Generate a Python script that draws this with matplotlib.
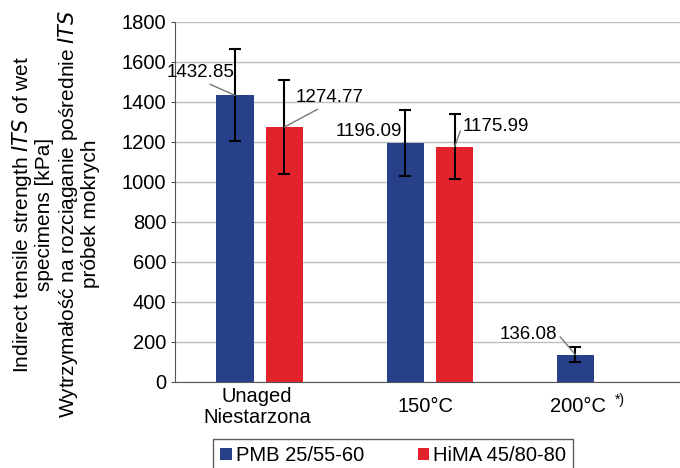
import numpy as np
import matplotlib
matplotlib.use('Agg')
import matplotlib.pyplot as plt
from matplotlib.transforms import ScaledTranslation

plt.rcParams['font.family'] = ['Liberation Sans', 'DejaVu Sans']

# data
categories = ['Unaged\nNiestarzona', '150°C', '200°C']
series_names = ['PMB 25/55-60', 'HiMA 45/80-80']
pmb_values = [1432.85, 1196.09, 136.08]
pmb_errors = [230, 165, 38]
hima_values = [1274.77, 1175.99, 0]
hima_errors = [235, 162, 0]
colors = ['#283f8a', '#e3232b']

fig = plt.figure(figsize=(6.8, 4.68), dpi=100)
ax = fig.add_axes([0.257, 0.184, 0.743, 0.769])

x = np.arange(len(categories))
w = 0.22
off = 0.145
ax.set_axisbelow(True)
ax.bar(x - off, pmb_values, w, color=colors[0], label=series_names[0], zorder=2)
ax.bar(x[:2] + off, hima_values[:2], w, color=colors[1], label=series_names[1], zorder=2)
ax.errorbar(x - off, pmb_values, yerr=pmb_errors, fmt='none', ecolor='black',
            elinewidth=1.5, capsize=4, capthick=1.5, zorder=3)
ax.errorbar(x[:2] + off, hima_values[:2], yerr=hima_errors[:2], fmt='none', ecolor='black',
            elinewidth=1.5, capsize=4, capthick=1.5, zorder=3)

ax.set_xlim(-0.5, 2.47)
ax.set_ylim(0, 1800)
ax.set_yticks(np.arange(0, 1801, 200))
ax.yaxis.grid(True, color='#bdbdbd', linewidth=1)
ax.tick_params(axis='y', labelsize=14.5, length=3, color='#555555', pad=3)
ax.set_xticks(x)
ax.set_xticklabels(categories, fontsize=14.5)
ax.tick_params(axis='x', length=0, pad=18)
shifts = [-3, -4, -22]
for lab, dx in zip(ax.get_xticklabels(), shifts):
    lab.set_verticalalignment('center')
    lab.set_linespacing(1.1)
    lab.set_transform(lab.get_transform() + ScaledTranslation(dx / 100, 0, fig.dpi_scale_trans))
ax.text(2.085, -90, '*)', fontsize=10, ha='left', va='center')

for s in ['top', 'right']:
    ax.spines[s].set_visible(False)
ax.spines['left'].set_color('#555555')
ax.spines['bottom'].set_color('#555555')

ax.set_ylabel('Indirect tensile strength $\\it{ITS}$ of wet\nspecimens [kPa]\n'
              'Wytrzymałość na rozciąganie pośrednie $\\it{ITS}$\npróbek mokrych',
              fontsize=15, linespacing=1.08)
ax.yaxis.set_label_coords(-0.148, 0.466)

# value labels with leader lines
line_kw = dict(arrowstyle='-', color='#777777', lw=1, shrinkA=0, shrinkB=0)
ax.annotate(f'{pmb_values[0]:.2f}', xy=(0 - off, pmb_values[0]), xytext=(-0.35, 1545),
            fontsize=13.5, ha='center', va='center',
            arrowprops=dict(line_kw, relpos=(0.55, 0.0)))
ax.annotate(f'{hima_values[0]:.2f}', xy=(0 + off, hima_values[0]), xytext=(0.41, 1420),
            fontsize=13.5, ha='center', va='center',
            arrowprops=dict(line_kw, relpos=(0.4, 0.0)))
ax.text(0.64, 1250, f'{pmb_values[1]:.2f}', fontsize=13.5, ha='center', va='center')
ax.annotate(f'{hima_values[1]:.2f}', xy=(1 + off, hima_values[1]), xytext=(1.39, 1275),
            fontsize=13.5, ha='center', va='center',
            arrowprops=dict(line_kw, relpos=(-0.02, 0.5)))
ax.annotate(f'{pmb_values[2]:.2f}', xy=(2 - off, pmb_values[2]), xytext=(1.58, 235),
            fontsize=13.5, ha='center', va='center',
            arrowprops=dict(line_kw, relpos=(1.02, 0.5)))

fig.legend(loc='lower left', bbox_to_anchor=(0.299, -0.03), ncol=2, fontsize=14.5,
           frameon=True, fancybox=False, edgecolor='#333333', handlelength=0.55,
           handleheight=0.55, handletextpad=0.2, columnspacing=2.7, borderpad=0.35)

fig.savefig('out.png', dpi=100)
